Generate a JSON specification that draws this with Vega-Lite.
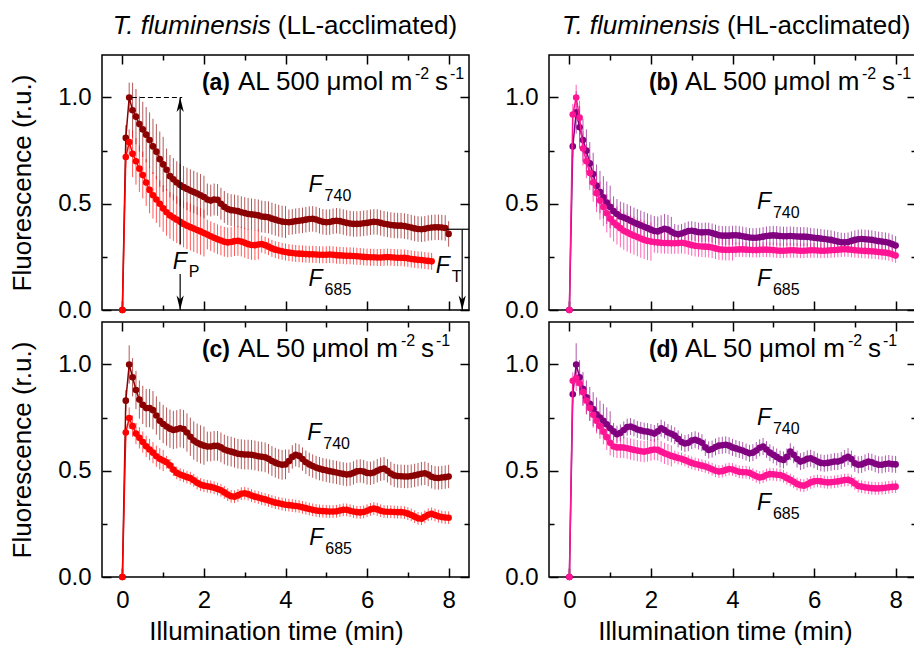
{
"$schema":"https://vega.github.io/schema/vega-lite/v6.json",
"autosize":"none",
"padding":{"left":102,"top":55,"right":812,"bottom":592},
"background":"white",
"datasets":{"d":[
{"p":"a","t":0,"g":0,"ge":0,"r":0,"re":0},
{"p":"a","t":5,"g":0.81,"ge":0.06,"r":0.72,"re":0.05},
{"p":"a","t":10,"g":1.0,"ge":0.07,"r":0.79,"re":0.06},
{"p":"a","t":15,"g":0.94,"ge":0.13,"r":0.735,"re":0.11},
{"p":"a","t":20,"g":0.91,"ge":0.13,"r":0.7,"re":0.11},
{"p":"a","t":25,"g":0.875,"ge":0.13,"r":0.665,"re":0.11},
{"p":"a","t":30,"g":0.85,"ge":0.13,"r":0.635,"re":0.11},
{"p":"a","t":35,"g":0.825,"ge":0.13,"r":0.6,"re":0.11},
{"p":"a","t":40,"g":0.8,"ge":0.13,"r":0.565,"re":0.11},
{"p":"a","t":45,"g":0.77,"ge":0.13,"r":0.54,"re":0.11},
{"p":"a","t":50,"g":0.745,"ge":0.13,"r":0.52,"re":0.11},
{"p":"a","t":55,"g":0.71,"ge":0.13,"r":0.5,"re":0.11},
{"p":"a","t":60,"g":0.685,"ge":0.13,"r":0.478,"re":0.11},
{"p":"a","t":65,"g":0.66,"ge":0.1,"r":0.46,"re":0.11},
{"p":"a","t":70,"g":0.63,"ge":0.1,"r":0.445,"re":0.11},
{"p":"a","t":75,"g":0.615,"ge":0.1,"r":0.435,"re":0.11},
{"p":"a","t":80,"g":0.6,"ge":0.1,"r":0.425,"re":0.11},
{"p":"a","t":85,"g":0.588,"ge":0.1,"r":0.415,"re":0.11},
{"p":"a","t":90,"g":0.578,"ge":0.1,"r":0.405,"re":0.11},
{"p":"a","t":95,"g":0.57,"ge":0.1,"r":0.397,"re":0.11},
{"p":"a","t":100,"g":0.562,"ge":0.1,"r":0.39,"re":0.11},
{"p":"a","t":105,"g":0.555,"ge":0.1,"r":0.383,"re":0.11},
{"p":"a","t":110,"g":0.548,"ge":0.1,"r":0.376,"re":0.11},
{"p":"a","t":115,"g":0.54,"ge":0.1,"r":0.37,"re":0.11},
{"p":"a","t":120,"g":0.532,"ge":0.1,"r":0.362,"re":0.11},
{"p":"a","t":125,"g":0.52,"ge":0.075,"r":0.355,"re":0.07},
{"p":"a","t":130,"g":0.515,"ge":0.075,"r":0.347,"re":0.07},
{"p":"a","t":135,"g":0.52,"ge":0.075,"r":0.34,"re":0.07},
{"p":"a","t":140,"g":0.518,"ge":0.075,"r":0.333,"re":0.07},
{"p":"a","t":145,"g":0.5,"ge":0.075,"r":0.327,"re":0.07},
{"p":"a","t":150,"g":0.485,"ge":0.075,"r":0.321,"re":0.07},
{"p":"a","t":155,"g":0.475,"ge":0.075,"r":0.318,"re":0.07},
{"p":"a","t":160,"g":0.47,"ge":0.075,"r":0.32,"re":0.07},
{"p":"a","t":165,"g":0.468,"ge":0.075,"r":0.324,"re":0.07},
{"p":"a","t":170,"g":0.465,"ge":0.075,"r":0.325,"re":0.07},
{"p":"a","t":175,"g":0.46,"ge":0.075,"r":0.322,"re":0.07},
{"p":"a","t":180,"g":0.456,"ge":0.075,"r":0.316,"re":0.07},
{"p":"a","t":185,"g":0.452,"ge":0.075,"r":0.31,"re":0.07},
{"p":"a","t":190,"g":0.45,"ge":0.075,"r":0.306,"re":0.07},
{"p":"a","t":195,"g":0.448,"ge":0.075,"r":0.305,"re":0.07},
{"p":"a","t":200,"g":0.445,"ge":0.075,"r":0.308,"re":0.07},
{"p":"a","t":205,"g":0.44,"ge":0.075,"r":0.31,"re":0.04},
{"p":"a","t":210,"g":0.438,"ge":0.075,"r":0.305,"re":0.04},
{"p":"a","t":215,"g":0.436,"ge":0.075,"r":0.298,"re":0.04},
{"p":"a","t":220,"g":0.43,"ge":0.075,"r":0.29,"re":0.04},
{"p":"a","t":225,"g":0.425,"ge":0.075,"r":0.284,"re":0.04},
{"p":"a","t":230,"g":0.42,"ge":0.075,"r":0.28,"re":0.04},
{"p":"a","t":235,"g":0.416,"ge":0.075,"r":0.276,"re":0.04},
{"p":"a","t":240,"g":0.414,"ge":0.075,"r":0.273,"re":0.04},
{"p":"a","t":245,"g":0.413,"ge":0.06,"r":0.27,"re":0.04},
{"p":"a","t":250,"g":0.415,"ge":0.06,"r":0.268,"re":0.04},
{"p":"a","t":255,"g":0.418,"ge":0.06,"r":0.266,"re":0.04},
{"p":"a","t":260,"g":0.42,"ge":0.06,"r":0.265,"re":0.04},
{"p":"a","t":265,"g":0.422,"ge":0.06,"r":0.264,"re":0.04},
{"p":"a","t":270,"g":0.425,"ge":0.06,"r":0.263,"re":0.04},
{"p":"a","t":275,"g":0.428,"ge":0.06,"r":0.262,"re":0.04},
{"p":"a","t":280,"g":0.429,"ge":0.06,"r":0.262,"re":0.04},
{"p":"a","t":285,"g":0.426,"ge":0.06,"r":0.261,"re":0.04},
{"p":"a","t":290,"g":0.42,"ge":0.06,"r":0.26,"re":0.04},
{"p":"a","t":295,"g":0.415,"ge":0.06,"r":0.26,"re":0.04},
{"p":"a","t":300,"g":0.413,"ge":0.06,"r":0.26,"re":0.04},
{"p":"a","t":305,"g":0.414,"ge":0.06,"r":0.261,"re":0.04},
{"p":"a","t":310,"g":0.418,"ge":0.06,"r":0.26,"re":0.04},
{"p":"a","t":315,"g":0.42,"ge":0.06,"r":0.258,"re":0.04},
{"p":"a","t":320,"g":0.418,"ge":0.06,"r":0.257,"re":0.04},
{"p":"a","t":325,"g":0.414,"ge":0.06,"r":0.256,"re":0.04},
{"p":"a","t":330,"g":0.41,"ge":0.06,"r":0.255,"re":0.04},
{"p":"a","t":335,"g":0.407,"ge":0.06,"r":0.255,"re":0.04},
{"p":"a","t":340,"g":0.405,"ge":0.06,"r":0.254,"re":0.04},
{"p":"a","t":345,"g":0.405,"ge":0.06,"r":0.253,"re":0.04},
{"p":"a","t":350,"g":0.406,"ge":0.06,"r":0.252,"re":0.04},
{"p":"a","t":355,"g":0.408,"ge":0.06,"r":0.25,"re":0.04},
{"p":"a","t":360,"g":0.41,"ge":0.06,"r":0.249,"re":0.04},
{"p":"a","t":365,"g":0.413,"ge":0.06,"r":0.248,"re":0.04},
{"p":"a","t":370,"g":0.415,"ge":0.06,"r":0.248,"re":0.04},
{"p":"a","t":375,"g":0.414,"ge":0.06,"r":0.247,"re":0.04},
{"p":"a","t":380,"g":0.41,"ge":0.06,"r":0.247,"re":0.04},
{"p":"a","t":385,"g":0.406,"ge":0.06,"r":0.248,"re":0.04},
{"p":"a","t":390,"g":0.403,"ge":0.06,"r":0.249,"re":0.04},
{"p":"a","t":395,"g":0.4,"ge":0.06,"r":0.248,"re":0.04},
{"p":"a","t":400,"g":0.398,"ge":0.06,"r":0.247,"re":0.04},
{"p":"a","t":405,"g":0.397,"ge":0.06,"r":0.246,"re":0.04},
{"p":"a","t":410,"g":0.397,"ge":0.06,"r":0.246,"re":0.04},
{"p":"a","t":415,"g":0.395,"ge":0.06,"r":0.245,"re":0.04},
{"p":"a","t":420,"g":0.392,"ge":0.06,"r":0.243,"re":0.04},
{"p":"a","t":425,"g":0.388,"ge":0.06,"r":0.24,"re":0.04},
{"p":"a","t":430,"g":0.384,"ge":0.06,"r":0.238,"re":0.04},
{"p":"a","t":435,"g":0.381,"ge":0.06,"r":0.236,"re":0.04},
{"p":"a","t":440,"g":0.38,"ge":0.06,"r":0.235,"re":0.04},
{"p":"a","t":445,"g":0.382,"ge":0.06,"r":0.233,"re":0.04},
{"p":"a","t":450,"g":0.386,"ge":0.06,"r":0.231,"re":0.04},
{"p":"a","t":455,"g":0.388,"ge":0.06,"r":0.229,"re":0.04},
{"p":"a","t":460,"g":0.389,"ge":0.06},
{"p":"a","t":465,"g":0.389,"ge":0.06},
{"p":"a","t":470,"g":0.388,"ge":0.06},
{"p":"a","t":475,"g":0.386,"ge":0.06},
{"p":"a","t":480,"g":0.358,"ge":0.06},
{"p":"b","t":0,"g":0,"ge":0,"r":0,"re":0},
{"p":"b","t":5,"g":0.77,"ge":0.05,"r":0.92,"re":0.05},
{"p":"b","t":10,"g":0.93,"ge":0.1,"r":1.0,"re":0.06},
{"p":"b","t":15,"g":0.86,"ge":0.1,"r":0.905,"re":0.08},
{"p":"b","t":20,"g":0.8,"ge":0.1,"r":0.76,"re":0.08},
{"p":"b","t":25,"g":0.75,"ge":0.1,"r":0.7,"re":0.08},
{"p":"b","t":30,"g":0.69,"ge":0.1,"r":0.645,"re":0.08},
{"p":"b","t":35,"g":0.64,"ge":0.1,"r":0.6,"re":0.09},
{"p":"b","t":40,"g":0.585,"ge":0.1,"r":0.55,"re":0.09},
{"p":"b","t":45,"g":0.555,"ge":0.1,"r":0.515,"re":0.09},
{"p":"b","t":50,"g":0.53,"ge":0.1,"r":0.485,"re":0.09},
{"p":"b","t":55,"g":0.505,"ge":0.1,"r":0.455,"re":0.09},
{"p":"b","t":60,"g":0.485,"ge":0.1,"r":0.43,"re":0.09},
{"p":"b","t":65,"g":0.465,"ge":0.07,"r":0.412,"re":0.09},
{"p":"b","t":70,"g":0.452,"ge":0.07,"r":0.398,"re":0.09},
{"p":"b","t":75,"g":0.44,"ge":0.07,"r":0.385,"re":0.09},
{"p":"b","t":80,"g":0.435,"ge":0.07,"r":0.373,"re":0.09},
{"p":"b","t":85,"g":0.428,"ge":0.07,"r":0.365,"re":0.09},
{"p":"b","t":90,"g":0.42,"ge":0.07,"r":0.357,"re":0.09},
{"p":"b","t":95,"g":0.412,"ge":0.07,"r":0.35,"re":0.09},
{"p":"b","t":100,"g":0.405,"ge":0.07,"r":0.343,"re":0.09},
{"p":"b","t":105,"g":0.398,"ge":0.07,"r":0.336,"re":0.09},
{"p":"b","t":110,"g":0.392,"ge":0.07,"r":0.33,"re":0.09},
{"p":"b","t":115,"g":0.385,"ge":0.07,"r":0.325,"re":0.09},
{"p":"b","t":120,"g":0.378,"ge":0.07,"r":0.322,"re":0.09},
{"p":"b","t":125,"g":0.372,"ge":0.07,"r":0.32,"re":0.05},
{"p":"b","t":130,"g":0.37,"ge":0.07,"r":0.318,"re":0.05},
{"p":"b","t":135,"g":0.376,"ge":0.07,"r":0.316,"re":0.05},
{"p":"b","t":140,"g":0.382,"ge":0.07,"r":0.315,"re":0.05},
{"p":"b","t":145,"g":0.378,"ge":0.07,"r":0.315,"re":0.05},
{"p":"b","t":150,"g":0.368,"ge":0.07,"r":0.314,"re":0.05},
{"p":"b","t":155,"g":0.36,"ge":0.045,"r":0.314,"re":0.05},
{"p":"b","t":160,"g":0.356,"ge":0.045,"r":0.315,"re":0.05},
{"p":"b","t":165,"g":0.36,"ge":0.045,"r":0.316,"re":0.05},
{"p":"b","t":170,"g":0.366,"ge":0.045,"r":0.314,"re":0.05},
{"p":"b","t":175,"g":0.372,"ge":0.045,"r":0.31,"re":0.05},
{"p":"b","t":180,"g":0.373,"ge":0.045,"r":0.305,"re":0.05},
{"p":"b","t":185,"g":0.37,"ge":0.045,"r":0.302,"re":0.05},
{"p":"b","t":190,"g":0.366,"ge":0.045,"r":0.3,"re":0.05},
{"p":"b","t":195,"g":0.365,"ge":0.045,"r":0.299,"re":0.05},
{"p":"b","t":200,"g":0.366,"ge":0.045,"r":0.298,"re":0.05},
{"p":"b","t":205,"g":0.366,"ge":0.045,"r":0.297,"re":0.05},
{"p":"b","t":210,"g":0.362,"ge":0.045,"r":0.294,"re":0.05},
{"p":"b","t":215,"g":0.357,"ge":0.045,"r":0.29,"re":0.05},
{"p":"b","t":220,"g":0.352,"ge":0.045,"r":0.286,"re":0.05},
{"p":"b","t":225,"g":0.35,"ge":0.045,"r":0.284,"re":0.05},
{"p":"b","t":230,"g":0.35,"ge":0.045,"r":0.283,"re":0.05},
{"p":"b","t":235,"g":0.35,"ge":0.045,"r":0.283,"re":0.05},
{"p":"b","t":240,"g":0.351,"ge":0.045,"r":0.283,"re":0.05},
{"p":"b","t":245,"g":0.352,"ge":0.045,"r":0.284,"re":0.035},
{"p":"b","t":250,"g":0.35,"ge":0.045,"r":0.285,"re":0.035},
{"p":"b","t":255,"g":0.347,"ge":0.045,"r":0.285,"re":0.035},
{"p":"b","t":260,"g":0.344,"ge":0.045,"r":0.284,"re":0.035},
{"p":"b","t":265,"g":0.341,"ge":0.045,"r":0.283,"re":0.035},
{"p":"b","t":270,"g":0.34,"ge":0.045,"r":0.282,"re":0.035},
{"p":"b","t":275,"g":0.34,"ge":0.045,"r":0.282,"re":0.035},
{"p":"b","t":280,"g":0.342,"ge":0.045,"r":0.283,"re":0.035},
{"p":"b","t":285,"g":0.345,"ge":0.045,"r":0.284,"re":0.035},
{"p":"b","t":290,"g":0.348,"ge":0.045,"r":0.284,"re":0.035},
{"p":"b","t":295,"g":0.35,"ge":0.045,"r":0.283,"re":0.035},
{"p":"b","t":300,"g":0.351,"ge":0.045,"r":0.282,"re":0.035},
{"p":"b","t":305,"g":0.35,"ge":0.045,"r":0.28,"re":0.035},
{"p":"b","t":310,"g":0.348,"ge":0.045,"r":0.279,"re":0.035},
{"p":"b","t":315,"g":0.347,"ge":0.045,"r":0.279,"re":0.035},
{"p":"b","t":320,"g":0.347,"ge":0.045,"r":0.28,"re":0.035},
{"p":"b","t":325,"g":0.348,"ge":0.045,"r":0.281,"re":0.035},
{"p":"b","t":330,"g":0.347,"ge":0.045,"r":0.281,"re":0.035},
{"p":"b","t":335,"g":0.346,"ge":0.045,"r":0.28,"re":0.035},
{"p":"b","t":340,"g":0.345,"ge":0.045,"r":0.279,"re":0.035},
{"p":"b","t":345,"g":0.345,"ge":0.045,"r":0.279,"re":0.035},
{"p":"b","t":350,"g":0.344,"ge":0.045,"r":0.28,"re":0.035},
{"p":"b","t":355,"g":0.342,"ge":0.045,"r":0.281,"re":0.035},
{"p":"b","t":360,"g":0.34,"ge":0.045,"r":0.281,"re":0.035},
{"p":"b","t":365,"g":0.338,"ge":0.045,"r":0.28,"re":0.035},
{"p":"b","t":370,"g":0.336,"ge":0.045,"r":0.279,"re":0.035},
{"p":"b","t":375,"g":0.334,"ge":0.045,"r":0.279,"re":0.035},
{"p":"b","t":380,"g":0.332,"ge":0.045,"r":0.28,"re":0.035},
{"p":"b","t":385,"g":0.33,"ge":0.045,"r":0.281,"re":0.035},
{"p":"b","t":390,"g":0.326,"ge":0.045,"r":0.282,"re":0.035},
{"p":"b","t":395,"g":0.322,"ge":0.045,"r":0.283,"re":0.035},
{"p":"b","t":400,"g":0.319,"ge":0.045,"r":0.285,"re":0.035},
{"p":"b","t":405,"g":0.318,"ge":0.045,"r":0.286,"re":0.035},
{"p":"b","t":410,"g":0.32,"ge":0.045,"r":0.285,"re":0.035},
{"p":"b","t":415,"g":0.325,"ge":0.045,"r":0.283,"re":0.035},
{"p":"b","t":420,"g":0.33,"ge":0.045,"r":0.281,"re":0.035},
{"p":"b","t":425,"g":0.333,"ge":0.045,"r":0.28,"re":0.035},
{"p":"b","t":430,"g":0.334,"ge":0.045,"r":0.279,"re":0.035},
{"p":"b","t":435,"g":0.333,"ge":0.045,"r":0.278,"re":0.035},
{"p":"b","t":440,"g":0.332,"ge":0.045,"r":0.277,"re":0.035},
{"p":"b","t":445,"g":0.33,"ge":0.045,"r":0.276,"re":0.035},
{"p":"b","t":450,"g":0.327,"ge":0.045,"r":0.275,"re":0.035},
{"p":"b","t":455,"g":0.324,"ge":0.045,"r":0.273,"re":0.035},
{"p":"b","t":460,"g":0.322,"ge":0.045,"r":0.271,"re":0.035},
{"p":"b","t":465,"g":0.32,"ge":0.045,"r":0.27,"re":0.035},
{"p":"b","t":470,"g":0.316,"ge":0.045,"r":0.267,"re":0.035},
{"p":"b","t":475,"g":0.31,"ge":0.045,"r":0.262,"re":0.035},
{"p":"b","t":480,"g":0.303,"ge":0.045,"r":0.256,"re":0.035},
{"p":"c","t":0,"g":0,"ge":0,"r":0,"re":0},
{"p":"c","t":5,"g":0.83,"ge":0.05,"r":0.68,"re":0.04},
{"p":"c","t":10,"g":1.0,"ge":0.09,"r":0.748,"re":0.05},
{"p":"c","t":15,"g":0.94,"ge":0.09,"r":0.71,"re":0.05},
{"p":"c","t":20,"g":0.88,"ge":0.09,"r":0.675,"re":0.05},
{"p":"c","t":25,"g":0.835,"ge":0.09,"r":0.655,"re":0.05},
{"p":"c","t":30,"g":0.81,"ge":0.09,"r":0.635,"re":0.05},
{"p":"c","t":35,"g":0.795,"ge":0.09,"r":0.615,"re":0.05},
{"p":"c","t":40,"g":0.795,"ge":0.09,"r":0.6,"re":0.05},
{"p":"c","t":45,"g":0.785,"ge":0.09,"r":0.585,"re":0.05},
{"p":"c","t":50,"g":0.76,"ge":0.09,"r":0.568,"re":0.05},
{"p":"c","t":55,"g":0.735,"ge":0.09,"r":0.556,"re":0.05},
{"p":"c","t":60,"g":0.72,"ge":0.09,"r":0.548,"re":0.05},
{"p":"c","t":65,"g":0.708,"ge":0.09,"r":0.54,"re":0.03},
{"p":"c","t":70,"g":0.698,"ge":0.09,"r":0.525,"re":0.03},
{"p":"c","t":75,"g":0.692,"ge":0.09,"r":0.505,"re":0.03},
{"p":"c","t":80,"g":0.695,"ge":0.09,"r":0.49,"re":0.03},
{"p":"c","t":85,"g":0.7,"ge":0.09,"r":0.482,"re":0.03},
{"p":"c","t":90,"g":0.696,"ge":0.09,"r":0.476,"re":0.03},
{"p":"c","t":95,"g":0.68,"ge":0.09,"r":0.47,"re":0.03},
{"p":"c","t":100,"g":0.66,"ge":0.09,"r":0.465,"re":0.03},
{"p":"c","t":105,"g":0.642,"ge":0.09,"r":0.455,"re":0.03},
{"p":"c","t":110,"g":0.632,"ge":0.09,"r":0.443,"re":0.03},
{"p":"c","t":115,"g":0.624,"ge":0.09,"r":0.435,"re":0.03},
{"p":"c","t":120,"g":0.618,"ge":0.09,"r":0.43,"re":0.03},
{"p":"c","t":125,"g":0.614,"ge":0.07,"r":0.427,"re":0.03},
{"p":"c","t":130,"g":0.614,"ge":0.07,"r":0.424,"re":0.03},
{"p":"c","t":135,"g":0.617,"ge":0.07,"r":0.42,"re":0.03},
{"p":"c","t":140,"g":0.617,"ge":0.07,"r":0.414,"re":0.03},
{"p":"c","t":145,"g":0.61,"ge":0.07,"r":0.408,"re":0.03},
{"p":"c","t":150,"g":0.6,"ge":0.07,"r":0.398,"re":0.03},
{"p":"c","t":155,"g":0.594,"ge":0.07,"r":0.388,"re":0.03},
{"p":"c","t":160,"g":0.59,"ge":0.07,"r":0.38,"re":0.03},
{"p":"c","t":165,"g":0.585,"ge":0.07,"r":0.378,"re":0.03},
{"p":"c","t":170,"g":0.58,"ge":0.07,"r":0.384,"re":0.03},
{"p":"c","t":175,"g":0.578,"ge":0.07,"r":0.392,"re":0.03},
{"p":"c","t":180,"g":0.576,"ge":0.07,"r":0.394,"re":0.03},
{"p":"c","t":185,"g":0.576,"ge":0.07,"r":0.39,"re":0.03},
{"p":"c","t":190,"g":0.575,"ge":0.07,"r":0.383,"re":0.03},
{"p":"c","t":195,"g":0.572,"ge":0.07,"r":0.378,"re":0.03},
{"p":"c","t":200,"g":0.568,"ge":0.07,"r":0.374,"re":0.03},
{"p":"c","t":205,"g":0.566,"ge":0.07,"r":0.369,"re":0.03},
{"p":"c","t":210,"g":0.563,"ge":0.07,"r":0.365,"re":0.03},
{"p":"c","t":215,"g":0.556,"ge":0.07,"r":0.36,"re":0.03},
{"p":"c","t":220,"g":0.546,"ge":0.07,"r":0.355,"re":0.03},
{"p":"c","t":225,"g":0.538,"ge":0.07,"r":0.35,"re":0.03},
{"p":"c","t":230,"g":0.532,"ge":0.07,"r":0.347,"re":0.03},
{"p":"c","t":235,"g":0.528,"ge":0.07,"r":0.343,"re":0.03},
{"p":"c","t":240,"g":0.53,"ge":0.07,"r":0.34,"re":0.03},
{"p":"c","t":245,"g":0.545,"ge":0.055,"r":0.338,"re":0.03},
{"p":"c","t":250,"g":0.565,"ge":0.055,"r":0.336,"re":0.03},
{"p":"c","t":255,"g":0.575,"ge":0.055,"r":0.334,"re":0.03},
{"p":"c","t":260,"g":0.57,"ge":0.055,"r":0.332,"re":0.03},
{"p":"c","t":265,"g":0.555,"ge":0.055,"r":0.328,"re":0.03},
{"p":"c","t":270,"g":0.54,"ge":0.055,"r":0.324,"re":0.03},
{"p":"c","t":275,"g":0.53,"ge":0.055,"r":0.32,"re":0.03},
{"p":"c","t":280,"g":0.522,"ge":0.055,"r":0.316,"re":0.03},
{"p":"c","t":285,"g":0.515,"ge":0.055,"r":0.313,"re":0.03},
{"p":"c","t":290,"g":0.51,"ge":0.055,"r":0.311,"re":0.03},
{"p":"c","t":295,"g":0.505,"ge":0.055,"r":0.31,"re":0.03},
{"p":"c","t":300,"g":0.502,"ge":0.055,"r":0.309,"re":0.03},
{"p":"c","t":305,"g":0.498,"ge":0.055,"r":0.308,"re":0.03},
{"p":"c","t":310,"g":0.495,"ge":0.055,"r":0.308,"re":0.03},
{"p":"c","t":315,"g":0.492,"ge":0.055,"r":0.309,"re":0.03},
{"p":"c","t":320,"g":0.488,"ge":0.055,"r":0.313,"re":0.03},
{"p":"c","t":325,"g":0.485,"ge":0.055,"r":0.316,"re":0.03},
{"p":"c","t":330,"g":0.482,"ge":0.055,"r":0.316,"re":0.03},
{"p":"c","t":335,"g":0.484,"ge":0.055,"r":0.312,"re":0.03},
{"p":"c","t":340,"g":0.49,"ge":0.055,"r":0.308,"re":0.03},
{"p":"c","t":345,"g":0.497,"ge":0.055,"r":0.305,"re":0.03},
{"p":"c","t":350,"g":0.499,"ge":0.055,"r":0.304,"re":0.03},
{"p":"c","t":355,"g":0.496,"ge":0.055,"r":0.306,"re":0.03},
{"p":"c","t":360,"g":0.49,"ge":0.055,"r":0.312,"re":0.03},
{"p":"c","t":365,"g":0.488,"ge":0.055,"r":0.318,"re":0.03},
{"p":"c","t":370,"g":0.492,"ge":0.055,"r":0.322,"re":0.03},
{"p":"c","t":375,"g":0.5,"ge":0.055,"r":0.318,"re":0.03},
{"p":"c","t":380,"g":0.507,"ge":0.055,"r":0.312,"re":0.03},
{"p":"c","t":385,"g":0.51,"ge":0.055,"r":0.308,"re":0.03},
{"p":"c","t":390,"g":0.5,"ge":0.055,"r":0.307,"re":0.03},
{"p":"c","t":395,"g":0.487,"ge":0.055,"r":0.307,"re":0.03},
{"p":"c","t":400,"g":0.478,"ge":0.055,"r":0.306,"re":0.03},
{"p":"c","t":405,"g":0.475,"ge":0.055,"r":0.305,"re":0.03},
{"p":"c","t":410,"g":0.474,"ge":0.055,"r":0.305,"re":0.03},
{"p":"c","t":415,"g":0.473,"ge":0.055,"r":0.303,"re":0.03},
{"p":"c","t":420,"g":0.473,"ge":0.055,"r":0.298,"re":0.03},
{"p":"c","t":425,"g":0.475,"ge":0.055,"r":0.292,"re":0.03},
{"p":"c","t":430,"g":0.478,"ge":0.055,"r":0.284,"re":0.03},
{"p":"c","t":435,"g":0.482,"ge":0.055,"r":0.276,"re":0.03},
{"p":"c","t":440,"g":0.486,"ge":0.055,"r":0.274,"re":0.03},
{"p":"c","t":445,"g":0.488,"ge":0.055,"r":0.283,"re":0.03},
{"p":"c","t":450,"g":0.482,"ge":0.055,"r":0.293,"re":0.03},
{"p":"c","t":455,"g":0.472,"ge":0.055,"r":0.297,"re":0.03},
{"p":"c","t":460,"g":0.467,"ge":0.055,"r":0.292,"re":0.03},
{"p":"c","t":465,"g":0.466,"ge":0.055,"r":0.286,"re":0.03},
{"p":"c","t":470,"g":0.468,"ge":0.055,"r":0.282,"re":0.03},
{"p":"c","t":475,"g":0.47,"ge":0.055,"r":0.28,"re":0.03},
{"p":"c","t":480,"g":0.473,"ge":0.055,"r":0.279,"re":0.03},
{"p":"d","t":0,"g":0,"ge":0,"r":0,"re":0},
{"p":"d","t":5,"g":0.86,"ge":0.04,"r":0.923,"re":0.04},
{"p":"d","t":10,"g":1.0,"ge":0.1,"r":0.935,"re":0.06},
{"p":"d","t":15,"g":0.94,"ge":0.08,"r":0.912,"re":0.06},
{"p":"d","t":20,"g":0.885,"ge":0.08,"r":0.87,"re":0.06},
{"p":"d","t":25,"g":0.845,"ge":0.08,"r":0.83,"re":0.06},
{"p":"d","t":30,"g":0.815,"ge":0.08,"r":0.795,"re":0.06},
{"p":"d","t":35,"g":0.79,"ge":0.08,"r":0.763,"re":0.06},
{"p":"d","t":40,"g":0.765,"ge":0.08,"r":0.735,"re":0.06},
{"p":"d","t":45,"g":0.75,"ge":0.08,"r":0.71,"re":0.06},
{"p":"d","t":50,"g":0.735,"ge":0.08,"r":0.684,"re":0.06},
{"p":"d","t":55,"g":0.718,"ge":0.08,"r":0.658,"re":0.06},
{"p":"d","t":60,"g":0.7,"ge":0.08,"r":0.632,"re":0.06},
{"p":"d","t":65,"g":0.685,"ge":0.04,"r":0.614,"re":0.05},
{"p":"d","t":70,"g":0.672,"ge":0.04,"r":0.61,"re":0.05},
{"p":"d","t":75,"g":0.678,"ge":0.04,"r":0.61,"re":0.05},
{"p":"d","t":80,"g":0.692,"ge":0.04,"r":0.609,"re":0.05},
{"p":"d","t":85,"g":0.705,"ge":0.04,"r":0.606,"re":0.05},
{"p":"d","t":90,"g":0.708,"ge":0.04,"r":0.602,"re":0.05},
{"p":"d","t":95,"g":0.702,"ge":0.04,"r":0.598,"re":0.05},
{"p":"d","t":100,"g":0.694,"ge":0.04,"r":0.595,"re":0.05},
{"p":"d","t":105,"g":0.69,"ge":0.04,"r":0.592,"re":0.05},
{"p":"d","t":110,"g":0.686,"ge":0.04,"r":0.59,"re":0.05},
{"p":"d","t":115,"g":0.684,"ge":0.04,"r":0.593,"re":0.05},
{"p":"d","t":120,"g":0.68,"ge":0.04,"r":0.597,"re":0.05},
{"p":"d","t":125,"g":0.675,"ge":0.04,"r":0.6,"re":0.05},
{"p":"d","t":130,"g":0.685,"ge":0.04,"r":0.598,"re":0.05},
{"p":"d","t":135,"g":0.7,"ge":0.04,"r":0.59,"re":0.05},
{"p":"d","t":140,"g":0.692,"ge":0.04,"r":0.582,"re":0.05},
{"p":"d","t":145,"g":0.68,"ge":0.04,"r":0.576,"re":0.05},
{"p":"d","t":150,"g":0.674,"ge":0.04,"r":0.57,"re":0.05},
{"p":"d","t":155,"g":0.665,"ge":0.04,"r":0.565,"re":0.03},
{"p":"d","t":160,"g":0.65,"ge":0.04,"r":0.56,"re":0.03},
{"p":"d","t":165,"g":0.635,"ge":0.04,"r":0.556,"re":0.03},
{"p":"d","t":170,"g":0.628,"ge":0.04,"r":0.55,"re":0.03},
{"p":"d","t":175,"g":0.632,"ge":0.04,"r":0.543,"re":0.03},
{"p":"d","t":180,"g":0.642,"ge":0.04,"r":0.537,"re":0.03},
{"p":"d","t":185,"g":0.646,"ge":0.04,"r":0.532,"re":0.03},
{"p":"d","t":190,"g":0.64,"ge":0.04,"r":0.528,"re":0.03},
{"p":"d","t":195,"g":0.632,"ge":0.04,"r":0.524,"re":0.03},
{"p":"d","t":200,"g":0.61,"ge":0.04,"r":0.52,"re":0.03},
{"p":"d","t":205,"g":0.598,"ge":0.04,"r":0.514,"re":0.03},
{"p":"d","t":210,"g":0.602,"ge":0.04,"r":0.507,"re":0.03},
{"p":"d","t":215,"g":0.612,"ge":0.04,"r":0.5,"re":0.03},
{"p":"d","t":220,"g":0.618,"ge":0.04,"r":0.496,"re":0.03},
{"p":"d","t":225,"g":0.62,"ge":0.04,"r":0.498,"re":0.03},
{"p":"d","t":230,"g":0.622,"ge":0.04,"r":0.504,"re":0.03},
{"p":"d","t":235,"g":0.618,"ge":0.04,"r":0.508,"re":0.03},
{"p":"d","t":240,"g":0.61,"ge":0.04,"r":0.506,"re":0.03},
{"p":"d","t":245,"g":0.605,"ge":0.04,"r":0.5,"re":0.03},
{"p":"d","t":250,"g":0.6,"ge":0.04,"r":0.495,"re":0.03},
{"p":"d","t":255,"g":0.595,"ge":0.04,"r":0.493,"re":0.03},
{"p":"d","t":260,"g":0.588,"ge":0.04,"r":0.493,"re":0.03},
{"p":"d","t":265,"g":0.582,"ge":0.04,"r":0.49,"re":0.03},
{"p":"d","t":270,"g":0.585,"ge":0.04,"r":0.482,"re":0.03},
{"p":"d","t":275,"g":0.595,"ge":0.04,"r":0.474,"re":0.03},
{"p":"d","t":280,"g":0.608,"ge":0.04,"r":0.468,"re":0.03},
{"p":"d","t":285,"g":0.614,"ge":0.04,"r":0.472,"re":0.03},
{"p":"d","t":290,"g":0.6,"ge":0.04,"r":0.48,"re":0.03},
{"p":"d","t":295,"g":0.585,"ge":0.04,"r":0.484,"re":0.03},
{"p":"d","t":300,"g":0.575,"ge":0.04,"r":0.483,"re":0.03},
{"p":"d","t":305,"g":0.565,"ge":0.04,"r":0.481,"re":0.03},
{"p":"d","t":310,"g":0.555,"ge":0.04,"r":0.48,"re":0.03},
{"p":"d","t":315,"g":0.551,"ge":0.04,"r":0.474,"re":0.03},
{"p":"d","t":320,"g":0.565,"ge":0.04,"r":0.465,"re":0.03},
{"p":"d","t":325,"g":0.59,"ge":0.04,"r":0.457,"re":0.03},
{"p":"d","t":330,"g":0.575,"ge":0.04,"r":0.448,"re":0.03},
{"p":"d","t":335,"g":0.555,"ge":0.04,"r":0.438,"re":0.03},
{"p":"d","t":340,"g":0.543,"ge":0.04,"r":0.432,"re":0.03},
{"p":"d","t":345,"g":0.548,"ge":0.04,"r":0.43,"re":0.03},
{"p":"d","t":350,"g":0.556,"ge":0.04,"r":0.436,"re":0.03},
{"p":"d","t":355,"g":0.559,"ge":0.04,"r":0.445,"re":0.03},
{"p":"d","t":360,"g":0.552,"ge":0.04,"r":0.45,"re":0.03},
{"p":"d","t":365,"g":0.543,"ge":0.04,"r":0.452,"re":0.03},
{"p":"d","t":370,"g":0.537,"ge":0.04,"r":0.45,"re":0.03},
{"p":"d","t":375,"g":0.535,"ge":0.04,"r":0.447,"re":0.03},
{"p":"d","t":380,"g":0.537,"ge":0.04,"r":0.445,"re":0.03},
{"p":"d","t":385,"g":0.54,"ge":0.04,"r":0.446,"re":0.03},
{"p":"d","t":390,"g":0.543,"ge":0.04,"r":0.448,"re":0.03},
{"p":"d","t":395,"g":0.543,"ge":0.04,"r":0.45,"re":0.03},
{"p":"d","t":400,"g":0.548,"ge":0.04,"r":0.453,"re":0.03},
{"p":"d","t":405,"g":0.558,"ge":0.04,"r":0.456,"re":0.03},
{"p":"d","t":410,"g":0.566,"ge":0.04,"r":0.457,"re":0.03},
{"p":"d","t":415,"g":0.555,"ge":0.04,"r":0.452,"re":0.03},
{"p":"d","t":420,"g":0.535,"ge":0.04,"r":0.44,"re":0.03},
{"p":"d","t":425,"g":0.528,"ge":0.04,"r":0.428,"re":0.03},
{"p":"d","t":430,"g":0.53,"ge":0.04,"r":0.425,"re":0.03},
{"p":"d","t":435,"g":0.537,"ge":0.04,"r":0.422,"re":0.03},
{"p":"d","t":440,"g":0.543,"ge":0.04,"r":0.42,"re":0.03},
{"p":"d","t":445,"g":0.54,"ge":0.04,"r":0.418,"re":0.03},
{"p":"d","t":450,"g":0.533,"ge":0.04,"r":0.417,"re":0.03},
{"p":"d","t":455,"g":0.528,"ge":0.04,"r":0.417,"re":0.03},
{"p":"d","t":460,"g":0.528,"ge":0.04,"r":0.418,"re":0.03},
{"p":"d","t":465,"g":0.532,"ge":0.04,"r":0.42,"re":0.03},
{"p":"d","t":470,"g":0.534,"ge":0.04,"r":0.422,"re":0.03},
{"p":"d","t":475,"g":0.531,"ge":0.04,"r":0.424,"re":0.03},
{"p":"d","t":480,"g":0.53,"ge":0.04,"r":0.425,"re":0.03}
]},
"concat":[
{"width":367,"height":255,"data":{"name":"d"},"transform":[{"filter":"datum.p == 'a'"}],
 "layer":[
  {"layer":[
   {"mark":{"type":"errorbar","color":"#8b0000","opacity":0.65,"thickness":1},"encoding":{"x":{"field":"t","type":"quantitative","title":null},"y":{"field":"g","type":"quantitative","title":"Fluorescence (r.u.)"},"yError":{"field":"ge"}}},
   {"mark":{"type":"errorbar","color":"#ff0000","opacity":0.65,"thickness":1},"encoding":{"x":{"field":"t","type":"quantitative","title":null},"y":{"field":"r","type":"quantitative","title":"Fluorescence (r.u.)"},"yError":{"field":"re"}}},
   {"mark":{"type":"line","color":"#8b0000","strokeWidth":1.5,"point":{"filled":true,"size":44,"color":"#8b0000","opacity":1}},
    "encoding":{"x":{"field":"t","type":"quantitative","title":null,"scale":{"domain":[-30,510],"nice":false,"zero":false},"axis":{"values":[0,60,120,180,240,300,360,420,480],"labels":false,"title":null,"tickSize":{"condition":{"test":"datum.value % 120 != 0","value":-5},"value":-9}}},
     "y":{"field":"g","type":"quantitative","title":"Fluorescence (r.u.)","scale":{"domain":[0,1.2],"nice":false,"zero":false},"axis":{"values":[0,0.25,0.5,0.75,1],"labelExpr":"datum.value % 0.5 == 0 ? format(datum.value, '.1f') : ''","title":"Fluorescence (r.u.)","labelPadding":20,"titlePadding":22,"tickSize":{"condition":{"test":"datum.value % 0.5 != 0","value":-5},"value":-9}}}}},
   {"mark":{"type":"line","color":"#ff0000","strokeWidth":1.5,"point":{"filled":true,"size":44,"color":"#ff0000","opacity":1}},"encoding":{"x":{"field":"t","type":"quantitative","title":null},"y":{"field":"r","type":"quantitative","title":"Fluorescence (r.u.)"}}},
   {"data":{"values":[{"s":"T. fluminensis"}]},"mark":{"type":"text","fontSize":26,"fontStyle":"italic"},"encoding":{"x":{"datum":-14},"y":{"datum":1.3},"text":{"field":"s"}}},
   {"data":{"values":[{"s":"(LL-acclimated)"}]},"mark":{"type":"text","fontSize":26,"dx":165},"encoding":{"x":{"datum":-14},"y":{"datum":1.3},"text":{"field":"s"}}},
   {"data":{"values":[{"s":"(a)"}]},"mark":{"type":"text","fontSize":23,"fontWeight":"bold"},"encoding":{"x":{"datum":117},"y":{"datum":1.035},"text":{"field":"s"}}},
   {"data":{"values":[{"s":"AL 500 μmol m"}]},"mark":{"type":"text","fontSize":26,"dx":36},"encoding":{"x":{"datum":117},"y":{"datum":1.035},"text":{"field":"s"}}},
   {"data":{"values":[{"s":"-2"}]},"mark":{"type":"text","fontSize":16,"dx":213,"dy":-11},"encoding":{"x":{"datum":117},"y":{"datum":1.035},"text":{"field":"s"}}},
   {"data":{"values":[{"s":"s"}]},"mark":{"type":"text","fontSize":26,"dx":233},"encoding":{"x":{"datum":117},"y":{"datum":1.035},"text":{"field":"s"}}},
   {"data":{"values":[{"s":"-1"}]},"mark":{"type":"text","fontSize":16,"dx":248,"dy":-11},"encoding":{"x":{"datum":117},"y":{"datum":1.035},"text":{"field":"s"}}},
   {"data":{"values":[{"s":"F"}]},"mark":{"type":"text","fontSize":23,"fontStyle":"italic"},"encoding":{"x":{"datum":274},"y":{"datum":0.554},"text":{"field":"s"}}},
   {"data":{"values":[{"s":"740"}]},"mark":{"type":"text","fontSize":16,"dx":16,"dy":9},"encoding":{"x":{"datum":274},"y":{"datum":0.554},"text":{"field":"s"}}},
   {"data":{"values":[{"s":"F"}]},"mark":{"type":"text","fontSize":23,"fontStyle":"italic"},"encoding":{"x":{"datum":274},"y":{"datum":0.115},"text":{"field":"s"}}},
   {"data":{"values":[{"s":"685"}]},"mark":{"type":"text","fontSize":16,"dx":16,"dy":9},"encoding":{"x":{"datum":274},"y":{"datum":0.115},"text":{"field":"s"}}},
   {"data":{"values":[{"s":"F"}]},"mark":{"type":"text","fontSize":23,"fontStyle":"italic"},"encoding":{"x":{"datum":74},"y":{"datum":0.193},"text":{"field":"s"}}},
   {"data":{"values":[{"s":"P"}]},"mark":{"type":"text","fontSize":16,"dx":16,"dy":8},"encoding":{"x":{"datum":74},"y":{"datum":0.193},"text":{"field":"s"}}},
   {"data":{"values":[{"s":"F"}]},"mark":{"type":"text","fontSize":23,"fontStyle":"italic"},"encoding":{"x":{"datum":461},"y":{"datum":0.176},"text":{"field":"s"}}},
   {"data":{"values":[{"s":"T"}]},"mark":{"type":"text","fontSize":16,"dx":16,"dy":9},"encoding":{"x":{"datum":461},"y":{"datum":0.176},"text":{"field":"s"}}},
   {"data":{"values":[{}]},"mark":{"type":"rule","color":"#000","strokeWidth":1,"strokeDash":[5,3]},"encoding":{"x":{"datum":14},"x2":{"datum":88},"y":{"datum":1.0}}},
   {"data":{"values":[{}]},"mark":{"type":"rule","color":"#000","strokeWidth":1.2},"encoding":{"x":{"datum":85},"y":{"datum":1.0},"y2":{"datum":0.31}}},
   {"data":{"values":[{}]},"mark":{"type":"rule","color":"#000","strokeWidth":1.2},"encoding":{"x":{"datum":85},"y":{"datum":0.17},"y2":{"datum":0}}},
   {"data":{"values":[{}]},"mark":{"type":"rule","color":"#000","strokeWidth":1.2},"encoding":{"x":{"datum":477},"x2":{"datum":510},"y":{"datum":0.38}}},
   {"data":{"values":[{}]},"mark":{"type":"rule","color":"#000","strokeWidth":1.2},"encoding":{"x":{"datum":500},"y":{"datum":0.38},"y2":{"datum":0}}},
   {"data":{"values":[{}]},"mark":{"type":"point","shape":"M-0.45,1.8L0,0L0.45,1.8L0,1.3Z","size":256,"filled":true,"color":"#000","opacity":1},"encoding":{"x":{"datum":85},"y":{"datum":1.0}}},
   {"data":{"values":[{}]},"mark":{"type":"point","shape":"M-0.45,-1.8L0,0L0.45,-1.8L0,-1.3Z","size":256,"filled":true,"color":"#000","opacity":1},"encoding":{"x":{"datum":85},"y":{"datum":0}}},
   {"data":{"values":[{}]},"mark":{"type":"point","shape":"M-0.45,-1.8L0,0L0.45,-1.8L0,-1.3Z","size":256,"filled":true,"color":"#000","opacity":1},"encoding":{"x":{"datum":500},"y":{"datum":0}}}
  ]},
  {"data":{"values":[{}]},"mark":{"type":"point","opacity":0},"encoding":{"x":{"datum":0,"axis":{"orient":"top","values":[0,60,120,180,240,300,360,420,480],"labels":false,"title":null,"tickSize":{"condition":{"test":"datum.value % 120 != 0","value":-5},"value":-9}}},"y":{"datum":0,"axis":{"orient":"right","values":[0,0.25,0.5,0.75,1],"labels":false,"title":null,"tickSize":{"condition":{"test":"datum.value % 0.5 != 0","value":-5},"value":-9}}}}}
 ],
 "resolve":{"axis":{"x":"independent","y":"independent"}}
},
{"width":367,"height":255,"data":{"name":"d"},"transform":[{"filter":"datum.p == 'b'"}],
 "layer":[
  {"layer":[
   {"mark":{"type":"errorbar","color":"#800080","opacity":0.65,"thickness":1},"encoding":{"x":{"field":"t","type":"quantitative","title":null},"y":{"field":"g","type":"quantitative","title":null},"yError":{"field":"ge"}}},
   {"mark":{"type":"errorbar","color":"#ff1493","opacity":0.65,"thickness":1},"encoding":{"x":{"field":"t","type":"quantitative","title":null},"y":{"field":"r","type":"quantitative","title":null},"yError":{"field":"re"}}},
   {"mark":{"type":"line","color":"#800080","strokeWidth":1.5,"point":{"filled":true,"size":44,"color":"#800080","opacity":1}},
    "encoding":{"x":{"field":"t","type":"quantitative","title":null,"scale":{"domain":[-30,510],"nice":false,"zero":false},"axis":{"values":[0,60,120,180,240,300,360,420,480],"labels":false,"title":null,"tickSize":{"condition":{"test":"datum.value % 120 != 0","value":-5},"value":-9}}},
     "y":{"field":"g","type":"quantitative","title":null,"scale":{"domain":[0,1.2],"nice":false,"zero":false},"axis":{"values":[0,0.25,0.5,0.75,1],"labelExpr":"datum.value % 0.5 == 0 ? format(datum.value, '.1f') : ''","title":null,"labelPadding":20,"tickSize":{"condition":{"test":"datum.value % 0.5 != 0","value":-5},"value":-9}}}}},
   {"mark":{"type":"line","color":"#ff1493","strokeWidth":1.5,"point":{"filled":true,"size":44,"color":"#ff1493","opacity":1}},"encoding":{"x":{"field":"t","type":"quantitative","title":null},"y":{"field":"r","type":"quantitative","title":null}}},
   {"data":{"values":[{"s":"T. fluminensis"}]},"mark":{"type":"text","fontSize":26,"fontStyle":"italic"},"encoding":{"x":{"datum":-11},"y":{"datum":1.3},"text":{"field":"s"}}},
   {"data":{"values":[{"s":"(HL-acclimated)"}]},"mark":{"type":"text","fontSize":26,"dx":165},"encoding":{"x":{"datum":-11},"y":{"datum":1.3},"text":{"field":"s"}}},
   {"data":{"values":[{"s":"(b)"}]},"mark":{"type":"text","fontSize":23,"fontWeight":"bold"},"encoding":{"x":{"datum":117},"y":{"datum":1.035},"text":{"field":"s"}}},
   {"data":{"values":[{"s":"AL 500 μmol m"}]},"mark":{"type":"text","fontSize":26,"dx":36},"encoding":{"x":{"datum":117},"y":{"datum":1.035},"text":{"field":"s"}}},
   {"data":{"values":[{"s":"-2"}]},"mark":{"type":"text","fontSize":16,"dx":213,"dy":-11},"encoding":{"x":{"datum":117},"y":{"datum":1.035},"text":{"field":"s"}}},
   {"data":{"values":[{"s":"s"}]},"mark":{"type":"text","fontSize":26,"dx":233},"encoding":{"x":{"datum":117},"y":{"datum":1.035},"text":{"field":"s"}}},
   {"data":{"values":[{"s":"-1"}]},"mark":{"type":"text","fontSize":16,"dx":248,"dy":-11},"encoding":{"x":{"datum":117},"y":{"datum":1.035},"text":{"field":"s"}}},
   {"data":{"values":[{"s":"F"}]},"mark":{"type":"text","fontSize":23,"fontStyle":"italic"},"encoding":{"x":{"datum":276},"y":{"datum":0.476},"text":{"field":"s"}}},
   {"data":{"values":[{"s":"740"}]},"mark":{"type":"text","fontSize":16,"dx":16,"dy":9},"encoding":{"x":{"datum":276},"y":{"datum":0.476},"text":{"field":"s"}}},
   {"data":{"values":[{"s":"F"}]},"mark":{"type":"text","fontSize":23,"fontStyle":"italic"},"encoding":{"x":{"datum":276},"y":{"datum":0.115},"text":{"field":"s"}}},
   {"data":{"values":[{"s":"685"}]},"mark":{"type":"text","fontSize":16,"dx":16,"dy":9},"encoding":{"x":{"datum":276},"y":{"datum":0.115},"text":{"field":"s"}}}
  ]},
  {"data":{"values":[{}]},"mark":{"type":"point","opacity":0},"encoding":{"x":{"datum":0,"axis":{"orient":"top","values":[0,60,120,180,240,300,360,420,480],"labels":false,"title":null,"tickSize":{"condition":{"test":"datum.value % 120 != 0","value":-5},"value":-9}}},"y":{"datum":0,"axis":{"orient":"right","values":[0,0.25,0.5,0.75,1],"labels":false,"title":null,"tickSize":{"condition":{"test":"datum.value % 0.5 != 0","value":-5},"value":-9}}}}}
 ],
 "resolve":{"axis":{"x":"independent","y":"independent"}}
},
{"width":367,"height":255,"data":{"name":"d"},"transform":[{"filter":"datum.p == 'c'"}],
 "layer":[
  {"layer":[
   {"mark":{"type":"errorbar","color":"#8b0000","opacity":0.65,"thickness":1},"encoding":{"x":{"field":"t","type":"quantitative","title":"Illumination time (min)"},"y":{"field":"g","type":"quantitative","title":"Fluorescence (r.u.)"},"yError":{"field":"ge"}}},
   {"mark":{"type":"errorbar","color":"#ff0000","opacity":0.65,"thickness":1},"encoding":{"x":{"field":"t","type":"quantitative","title":"Illumination time (min)"},"y":{"field":"r","type":"quantitative","title":"Fluorescence (r.u.)"},"yError":{"field":"re"}}},
   {"mark":{"type":"line","color":"#8b0000","strokeWidth":1.5,"point":{"filled":true,"size":44,"color":"#8b0000","opacity":1}},
    "encoding":{"x":{"field":"t","type":"quantitative","title":"Illumination time (min)","scale":{"domain":[-30,510],"nice":false,"zero":false},"axis":{"values":[0,60,120,180,240,300,360,420,480],"labelExpr":"datum.value % 120 == 0 ? '' + (datum.value / 60) : ''","title":"Illumination time (min)","titleX":174,"labelPadding":20,"titlePadding":2,"tickSize":{"condition":{"test":"datum.value % 120 != 0","value":-5},"value":-9}}},
     "y":{"field":"g","type":"quantitative","title":"Fluorescence (r.u.)","scale":{"domain":[0,1.2],"nice":false,"zero":false},"axis":{"values":[0,0.25,0.5,0.75,1],"labelExpr":"datum.value % 0.5 == 0 ? format(datum.value, '.1f') : ''","title":"Fluorescence (r.u.)","labelPadding":20,"titlePadding":22,"tickSize":{"condition":{"test":"datum.value % 0.5 != 0","value":-5},"value":-9}}}}},
   {"mark":{"type":"line","color":"#ff0000","strokeWidth":1.5,"point":{"filled":true,"size":44,"color":"#ff0000","opacity":1}},"encoding":{"x":{"field":"t","type":"quantitative","title":"Illumination time (min)"},"y":{"field":"r","type":"quantitative","title":"Fluorescence (r.u.)"}}},
   {"data":{"values":[{"s":"(c)"}]},"mark":{"type":"text","fontSize":23,"fontWeight":"bold"},"encoding":{"x":{"datum":117},"y":{"datum":1.035},"text":{"field":"s"}}},
   {"data":{"values":[{"s":"AL 50 μmol m"}]},"mark":{"type":"text","fontSize":26,"dx":36},"encoding":{"x":{"datum":117},"y":{"datum":1.035},"text":{"field":"s"}}},
   {"data":{"values":[{"s":"-2"}]},"mark":{"type":"text","fontSize":16,"dx":199,"dy":-11},"encoding":{"x":{"datum":117},"y":{"datum":1.035},"text":{"field":"s"}}},
   {"data":{"values":[{"s":"s"}]},"mark":{"type":"text","fontSize":26,"dx":219},"encoding":{"x":{"datum":117},"y":{"datum":1.035},"text":{"field":"s"}}},
   {"data":{"values":[{"s":"-1"}]},"mark":{"type":"text","fontSize":16,"dx":234,"dy":-11},"encoding":{"x":{"datum":117},"y":{"datum":1.035},"text":{"field":"s"}}},
   {"data":{"values":[{"s":"F"}]},"mark":{"type":"text","fontSize":23,"fontStyle":"italic"},"encoding":{"x":{"datum":272},"y":{"datum":0.645},"text":{"field":"s"}}},
   {"data":{"values":[{"s":"740"}]},"mark":{"type":"text","fontSize":16,"dx":16,"dy":9},"encoding":{"x":{"datum":272},"y":{"datum":0.645},"text":{"field":"s"}}},
   {"data":{"values":[{"s":"F"}]},"mark":{"type":"text","fontSize":23,"fontStyle":"italic"},"encoding":{"x":{"datum":275},"y":{"datum":0.151},"text":{"field":"s"}}},
   {"data":{"values":[{"s":"685"}]},"mark":{"type":"text","fontSize":16,"dx":16,"dy":9},"encoding":{"x":{"datum":275},"y":{"datum":0.151},"text":{"field":"s"}}}
  ]},
  {"data":{"values":[{}]},"mark":{"type":"point","opacity":0},"encoding":{"x":{"datum":0,"axis":{"orient":"top","values":[0,60,120,180,240,300,360,420,480],"labels":false,"title":null,"tickSize":{"condition":{"test":"datum.value % 120 != 0","value":-5},"value":-9}}},"y":{"datum":0,"axis":{"orient":"right","values":[0,0.25,0.5,0.75,1],"labels":false,"title":null,"tickSize":{"condition":{"test":"datum.value % 0.5 != 0","value":-5},"value":-9}}}}}
 ],
 "resolve":{"axis":{"x":"independent","y":"independent"}}
},
{"width":367,"height":255,"data":{"name":"d"},"transform":[{"filter":"datum.p == 'd'"}],
 "layer":[
  {"layer":[
   {"mark":{"type":"errorbar","color":"#800080","opacity":0.65,"thickness":1},"encoding":{"x":{"field":"t","type":"quantitative","title":"Illumination time (min)"},"y":{"field":"g","type":"quantitative","title":null},"yError":{"field":"ge"}}},
   {"mark":{"type":"errorbar","color":"#ff1493","opacity":0.65,"thickness":1},"encoding":{"x":{"field":"t","type":"quantitative","title":"Illumination time (min)"},"y":{"field":"r","type":"quantitative","title":null},"yError":{"field":"re"}}},
   {"mark":{"type":"line","color":"#800080","strokeWidth":1.5,"point":{"filled":true,"size":44,"color":"#800080","opacity":1}},
    "encoding":{"x":{"field":"t","type":"quantitative","title":"Illumination time (min)","scale":{"domain":[-30,510],"nice":false,"zero":false},"axis":{"values":[0,60,120,180,240,300,360,420,480],"labelExpr":"datum.value % 120 == 0 ? '' + (datum.value / 60) : ''","title":"Illumination time (min)","titleX":176,"labelPadding":20,"titlePadding":2,"tickSize":{"condition":{"test":"datum.value % 120 != 0","value":-5},"value":-9}}},
     "y":{"field":"g","type":"quantitative","title":null,"scale":{"domain":[0,1.2],"nice":false,"zero":false},"axis":{"values":[0,0.25,0.5,0.75,1],"labelExpr":"datum.value % 0.5 == 0 ? format(datum.value, '.1f') : ''","title":null,"labelPadding":20,"tickSize":{"condition":{"test":"datum.value % 0.5 != 0","value":-5},"value":-9}}}}},
   {"mark":{"type":"line","color":"#ff1493","strokeWidth":1.5,"point":{"filled":true,"size":44,"color":"#ff1493","opacity":1}},"encoding":{"x":{"field":"t","type":"quantitative","title":"Illumination time (min)"},"y":{"field":"r","type":"quantitative","title":null}}},
   {"data":{"values":[{"s":"(d)"}]},"mark":{"type":"text","fontSize":23,"fontWeight":"bold"},"encoding":{"x":{"datum":117},"y":{"datum":1.035},"text":{"field":"s"}}},
   {"data":{"values":[{"s":"AL 50 μmol m"}]},"mark":{"type":"text","fontSize":26,"dx":36},"encoding":{"x":{"datum":117},"y":{"datum":1.035},"text":{"field":"s"}}},
   {"data":{"values":[{"s":"-2"}]},"mark":{"type":"text","fontSize":16,"dx":199,"dy":-11},"encoding":{"x":{"datum":117},"y":{"datum":1.035},"text":{"field":"s"}}},
   {"data":{"values":[{"s":"s"}]},"mark":{"type":"text","fontSize":26,"dx":219},"encoding":{"x":{"datum":117},"y":{"datum":1.035},"text":{"field":"s"}}},
   {"data":{"values":[{"s":"-1"}]},"mark":{"type":"text","fontSize":16,"dx":234,"dy":-11},"encoding":{"x":{"datum":117},"y":{"datum":1.035},"text":{"field":"s"}}},
   {"data":{"values":[{"s":"F"}]},"mark":{"type":"text","fontSize":23,"fontStyle":"italic"},"encoding":{"x":{"datum":276},"y":{"datum":0.716},"text":{"field":"s"}}},
   {"data":{"values":[{"s":"740"}]},"mark":{"type":"text","fontSize":16,"dx":16,"dy":9},"encoding":{"x":{"datum":276},"y":{"datum":0.716},"text":{"field":"s"}}},
   {"data":{"values":[{"s":"F"}]},"mark":{"type":"text","fontSize":23,"fontStyle":"italic"},"encoding":{"x":{"datum":276},"y":{"datum":0.316},"text":{"field":"s"}}},
   {"data":{"values":[{"s":"685"}]},"mark":{"type":"text","fontSize":16,"dx":16,"dy":9},"encoding":{"x":{"datum":276},"y":{"datum":0.316},"text":{"field":"s"}}}
  ]},
  {"data":{"values":[{}]},"mark":{"type":"point","opacity":0},"encoding":{"x":{"datum":0,"axis":{"orient":"top","values":[0,60,120,180,240,300,360,420,480],"labels":false,"title":null,"tickSize":{"condition":{"test":"datum.value % 120 != 0","value":-5},"value":-9}}},"y":{"datum":0,"axis":{"orient":"right","values":[0,0.25,0.5,0.75,1],"labels":false,"title":null,"tickSize":{"condition":{"test":"datum.value % 0.5 != 0","value":-5},"value":-9}}}}}
 ],
 "resolve":{"axis":{"x":"independent","y":"independent"}}
}
],
"columns":2,
"spacing":{"row":12,"column":80},
"bounds":"flush",
"config":{
 "view":{"stroke":"#000","strokeWidth":1.5},
 "axis":{"domain":false,"grid":false,"tickColor":"#000","tickWidth":1.5,"labelFont":"Liberation Sans","labelFontSize":24,"labelColor":"#000","labelFlush":false,"labelOverlap":false,"titleFont":"Liberation Sans","titleFontSize":26,"titleFontWeight":"normal","titleColor":"#000"},
 "text":{"font":"Liberation Sans","color":"#000","align":"left","baseline":"alphabetic"}
}
}
